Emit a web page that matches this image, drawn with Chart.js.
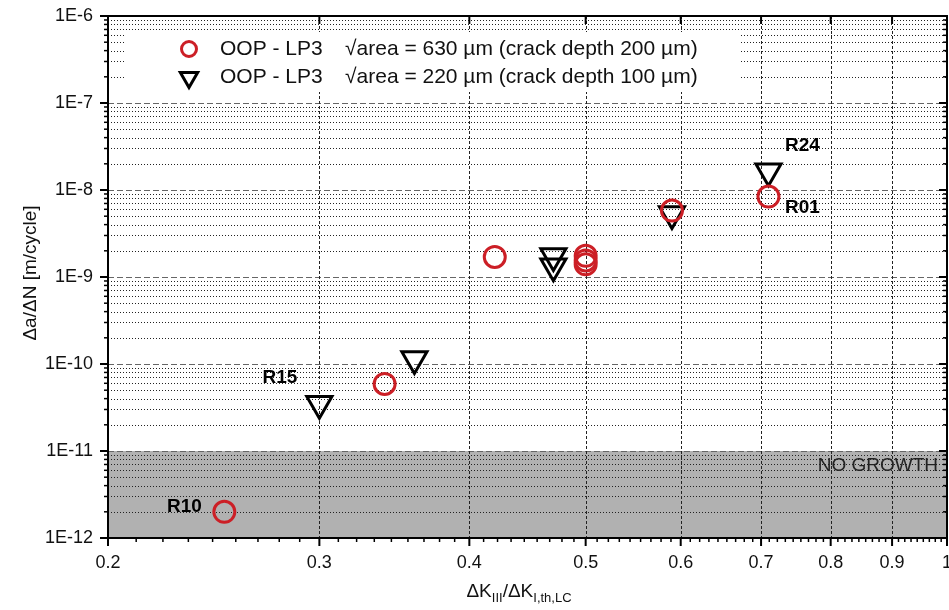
<!DOCTYPE html>
<html>
<head>
<meta charset="utf-8">
<script src="https://cdn.jsdelivr.net/npm/chart.js@4.4.1/dist/chart.umd.min.js"></script>
<style>
    html, body { margin: 0; padding: 0; background: #fff; overflow: hidden; }
    canvas { display: block; }
</style>
</head>
<body>
<canvas id="c" width="949" height="610"></canvas>
<script>
// tick values
const xTickValues = [0.2, 0.3, 0.4, 0.5, 0.6, 0.7, 0.8, 0.9, 1];
const yTickValues = [1e-12, 1e-11, 1e-10, 1e-9, 1e-8, 1e-7, 1e-6];

// OOP - LP3, sqrt(area) = 630 um (circles)
const bigCrackX = [0.25, 0.34, 0.42, 0.50, 0.50, 0.50, 0.59, 0.71];
const bigCrackY = [2.0e-12, 5.9e-11, 1.7e-9, 1.75e-9, 1.55e-9, 1.4e-9, 5.8e-9, 8.4e-9];

// OOP - LP3, sqrt(area) = 220 um (triangles)
const smallCrackX = [0.30, 0.36, 0.47, 0.47, 0.59, 0.71];
const smallCrackY = [3.5e-11, 1.14e-10, 1.74e-9, 1.33e-9, 5.3e-9, 1.64e-8];

const seriesNames = ['OOP - LP3', 'OOP - LP3'];
const seriesNotes = ['\u221Aarea = 630 \u00B5m (crack depth 200 \u00B5m)', '\u221Aarea = 220 \u00B5m (crack depth 100 \u00B5m)'];

// specimen names, anchored in data units
const specimenNames = ['R24', 'R01', 'R15', 'R10'];
const specimenX = [0.733, 0.733, 0.269, 0.224];
const specimenY = [3.2e-8, 6.25e-9, 7.0e-11, 2.27e-12];

const noGrowthLimit = 1e-11;

const FONT = '"Liberation Sans", Arial, sans-serif';
const RED = '#cc1f26';

const toPoints = (xs, ys) => xs.map((x, i) => ({x: x, y: ys[i]}));

const frame = {
    id: 'frame',
    beforeDatasetsDraw(chart) {
        const {ctx, chartArea: a, scales: {x, y}} = chart;
        ctx.save();

        // no growth band
        const yl = y.getPixelForValue(noGrowthLimit);
        ctx.fillStyle = '#b1b1b1';
        ctx.fillRect(a.left, yl, a.right - a.left, a.bottom - yl);

        const hline = (py) => {
            ctx.beginPath();
            ctx.moveTo(a.left, py);
            ctx.lineTo(a.right, py);
            ctx.stroke();
        };

        // minor horizontal grid
        ctx.lineWidth = 1;
        ctx.strokeStyle = '#222';
        ctx.setLineDash([1, 2]);
        for (let d = -12; d < -6; d++) {
            for (let m = 2; m <= 9; m++) {
                hline(Math.round(y.getPixelForValue(m * Math.pow(10, d))) + 0.5);
            }
        }
        // major horizontal grid
        ctx.strokeStyle = '#666';
        ctx.setLineDash([6, 3]);
        for (let i = 1; i < yTickValues.length - 1; i++) {
            hline(Math.round(y.getPixelForValue(yTickValues[i])) + 0.5);
        }
        // vertical grid
        ctx.strokeStyle = '#222';
        ctx.setLineDash([3, 2]);
        for (let i = 1; i < xTickValues.length - 1; i++) {
            const px = Math.round(x.getPixelForValue(xTickValues[i])) + 0.5;
            ctx.beginPath();
            ctx.moveTo(px, a.top);
            ctx.lineTo(px, a.bottom);
            ctx.stroke();
        }
        ctx.setLineDash([]);

        // legend background
        ctx.fillStyle = '#fff';
        ctx.fillRect(a.left + 17, a.top + 16, 614, 60);

        // tick marks
        ctx.strokeStyle = '#000';
        const tick = (x1, y1, x2, y2, w) => {
            ctx.lineWidth = w;
            ctx.beginPath();
            ctx.moveTo(x1, y1);
            ctx.lineTo(x2, y2);
            ctx.stroke();
        };
        for (let d = -12; d <= -6; d++) {
            const py = y.getPixelForValue(Math.pow(10, d));
            tick(a.left - 8, py, a.left, py, 2);
            tick(a.right, py, a.right - 8, py, 2);
            if (d === -6) break;
            for (let m = 2; m <= 9; m++) {
                const pm = y.getPixelForValue(m * Math.pow(10, d));
                tick(a.left - 4, pm, a.left, pm, 1.5);
                tick(a.right, pm, a.right - 4, pm, 1.5);
            }
        }
        ctx.fillStyle = '#111';
        ctx.font = '18px ' + FONT;
        ctx.textAlign = 'center';
        ctx.textBaseline = 'middle';
        for (let i = 0; i < xTickValues.length; i++) {
            const v = xTickValues[i];
            const px = x.getPixelForValue(v);
            tick(px, a.bottom, px, a.bottom + 8, 2);
            tick(px, a.top, px, a.top + 8, 2);
            ctx.fillText(String(v), px, a.bottom + 25);
            if (i === xTickValues.length - 1) break;
            const next = xTickValues[i + 1];
            for (let k = 1; k <= 8; k++) {
                const pm = x.getPixelForValue(v + (next - v) * k / 9);
                tick(pm, a.bottom, pm, a.bottom + 4, 1.5);
            }
        }

        // frame
        ctx.lineWidth = 2;
        ctx.strokeRect(a.left, a.top, a.right - a.left, a.bottom - a.top);
        ctx.restore();
    },
    afterDraw(chart) {
        const {ctx, chartArea: a, scales: {x, y}} = chart;
        ctx.save();

        // legend
        const lx = a.left + 81;
        const rows = [a.top + 33, a.top + 61];
        ctx.lineWidth = 3;
        ctx.strokeStyle = RED;
        ctx.beginPath();
        ctx.arc(lx, rows[0], 7.5, 0, Math.PI * 2);
        ctx.stroke();
        ctx.strokeStyle = '#000';
        ctx.beginPath();
        const r = 10;
        ctx.moveTo(lx, rows[1] + 0.5 + r);
        ctx.lineTo(lx - r * 0.866, rows[1] + 0.5 - r / 2);
        ctx.lineTo(lx + r * 0.866, rows[1] + 0.5 - r / 2);
        ctx.closePath();
        ctx.stroke();
        ctx.fillStyle = '#111';
        ctx.font = '21px ' + FONT;
        ctx.textBaseline = 'middle';
        ctx.textAlign = 'left';
        for (let i = 0; i < 2; i++) {
            ctx.fillText(seriesNames[i], a.left + 112, rows[i]);
            ctx.fillText(seriesNotes[i], a.left + 237, rows[i]);
        }

        // specimen labels
        ctx.font = 'bold 19px ' + FONT;
        ctx.fillStyle = '#000';
        for (let i = 0; i < specimenNames.length; i++) {
            ctx.fillText(specimenNames[i], x.getPixelForValue(specimenX[i]), y.getPixelForValue(specimenY[i]));
        }

        // no growth
        ctx.font = '19px ' + FONT;
        ctx.fillStyle = '#222';
        ctx.textAlign = 'right';
        ctx.fillText('NO GROWTH', a.right - 9, y.getPixelForValue(noGrowthLimit) + 15);

        // y title
        ctx.fillStyle = '#111';
        ctx.save();
        ctx.translate(31, 273);
        ctx.rotate(-Math.PI / 2);
        ctx.textAlign = 'center';
        ctx.fillText('\u0394a/\u0394N [m/cycle]', 0, 0);
        ctx.restore();

        // x title with subscripts
        const parts = [['\u0394K', 0], ['III', 1], ['/\u0394K', 0], ['I,th,LC', 1]];
        const big = '19px ' + FONT, small = '13px ' + FONT;
        let total = 0;
        for (const p of parts) {
            ctx.font = p[1] ? small : big;
            total += ctx.measureText(p[0]).width;
        }
        let cx = 519 - total / 2;
        ctx.textAlign = 'left';
        ctx.textBaseline = 'alphabetic';
        for (const p of parts) {
            ctx.font = p[1] ? small : big;
            ctx.fillText(p[0], cx, 597 + (p[1] ? 5 : 0));
            cx += ctx.measureText(p[0]).width;
        }
        ctx.restore();
    }
};

new Chart(document.getElementById('c'), {
    type: 'scatter',
    data: {
        datasets: [
            {
                label: seriesNames[0],
                data: toPoints(bigCrackX, bigCrackY),
                pointStyle: 'circle',
                pointRadius: 10.5,
                borderWidth: 3,
                borderColor: RED,
                backgroundColor: 'rgba(0,0,0,0)'
            },
            {
                label: seriesNames[1],
                data: toPoints(smallCrackX, smallCrackY),
                pointStyle: 'triangle',
                rotation: 180,
                pointRadius: 14.5,
                borderWidth: 3,
                borderColor: '#000',
                backgroundColor: 'rgba(0,0,0,0)'
            }
        ]
    },
    options: {
        responsive: false,
        animation: false,
        layout: {autoPadding: false, padding: {left: 0, top: 16, right: 2, bottom: 0}},
        plugins: {legend: {display: false}, tooltip: {enabled: false}},
        scales: {
            x: {
                type: 'logarithmic',
                min: 0.2,
                max: 1,
                grid: {display: false, drawTicks: false},
                border: {display: false},
                ticks: {display: false},
                afterFit: s => { s.height = 72; s.paddingLeft = 0; s.paddingRight = 0; }
            },
            y: {
                type: 'logarithmic',
                min: 1e-12,
                max: 1e-6,
                grid: {display: false, drawTicks: false},
                border: {display: false},
                afterBuildTicks: s => { s.ticks = yTickValues.map(v => ({value: v})); },
                afterFit: s => { s.width = 108; s.paddingTop = 0; s.paddingBottom = 0; },
                ticks: {
                    color: '#111',
                    font: {family: FONT, size: 18},
                    padding: 15,
                    autoSkip: false,
                    callback: v => '1E' + Math.round(Math.log10(v))
                }
            }
        }
    },
    plugins: [frame]
});
</script>
</body>
</html>
